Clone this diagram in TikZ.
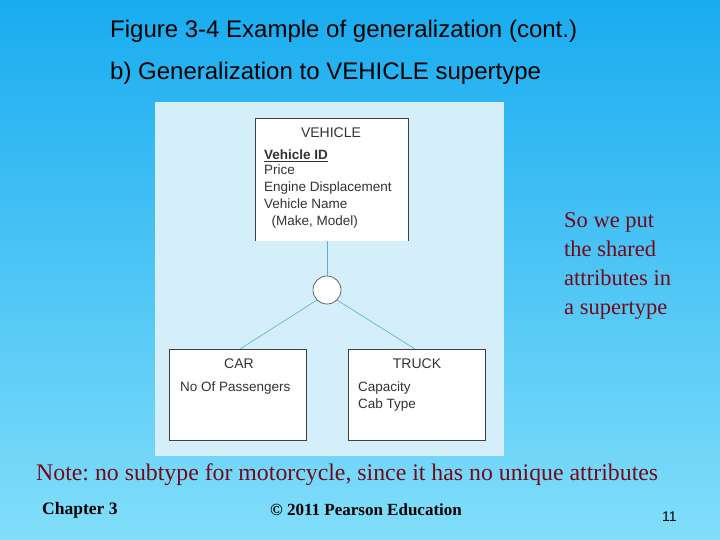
\documentclass[tikz,border=0pt]{standalone}
\usepackage{fontspec}
\setmainfont{Liberation Serif}
\newfontfamily\arial{Liberation Sans}
\definecolor{bgtop}{RGB}{25,172,240}
\definecolor{bgbot}{RGB}{130,222,250}
\definecolor{panel}{RGB}{212,238,250}
\definecolor{conn}{RGB}{90,175,205}
\definecolor{darkred}{RGB}{115,10,25}
\frenchspacing
\begin{document}
\begin{tikzpicture}[x=1pt,y=-1pt,
  ent/.style={draw=black!75,fill=white,line width=0.6pt},
  dtext/.style={font=\arial\fontsize{13.5}{17}\selectfont,text=black!80,anchor=north west,inner sep=0pt,align=left},
  dtitle/.style={font=\arial\fontsize{14}{16}\selectfont,text=black!80,inner sep=0pt},
  link/.style={draw=conn,line width=0.6pt}]
\shade[top color=bgtop,bottom color=bgbot] (0,0) rectangle (720,540);
\useasboundingbox (0,0) rectangle (720,540);
\fill[panel] (155,102) rectangle (504,456);
% entities
\fill[white] (255,118) rectangle (408,241);
\draw[ent,fill=none] (255,241) -- (255,118) -- (408,118) -- (408,241);
\coordinate (vb) at (327,241);
\node[dtitle] (vt) at (331,133) {VEHICLE};
\node[dtext] (va) at (264,150) {\underline{\textbf{Vehicle ID}}\\[-2pt]Price\\Engine Displacement\\Vehicle Name\\\ \ (Make, Model)};
\node[draw=black!75,fill=white,circle,minimum size=28pt,inner sep=0pt,line width=0.6pt] (c) at (327,290) {};
\node[ent,minimum width=137pt,minimum height=91pt,anchor=north west] (car) at (169,349) {};
\node[ent,minimum width=137pt,minimum height=91pt,anchor=north west] (truck) at (348,349) {};
\node[dtitle] (ct) at (239,364) {CAR};
\node[dtext] (ca) at (180,382) {No Of Passengers};
\node[dtitle] (tt) at (417,364) {TRUCK};
\node[dtext] (ta) at (358,382) {Capacity\\Cab Type};
\draw[link] (vb) -- (c.north);
\draw[link] (c.south west) -- (car.north -| 240,0);
\draw[link] (c.south east) -- (truck.north -| 415,0);
% texts
\node[font=\arial\fontsize{24}{28}\selectfont,anchor=west,inner sep=0pt] (t1) at (110,31) {Figure 3-4 Example of generalization (cont.)};
\node[font=\arial\fontsize{24}{28}\selectfont,anchor=west,inner sep=0pt] (t2) at (110,73) {b) Generalization to VEHICLE supertype};
\node[font=\fontsize{22.5}{29}\selectfont,text=darkred,anchor=base west,align=left,inner sep=0pt] (side) at (564,314) {So we put\\the shared\\attributes in\\a supertype};
\node[font=\fontsize{23.8}{28}\selectfont,text=darkred,anchor=west,inner sep=0pt] (note) at (36,475) {Note: no subtype for motorcycle, since it has no unique attributes};
\node[font=\bfseries\fontsize{17.5}{22}\selectfont,anchor=west,inner sep=0pt] (ch) at (42,510) {Chapter 3};
\node[font=\bfseries\fontsize{17}{20}\selectfont,anchor=west,inner sep=0pt] (cp) at (270,510) {\textcopyright{} 2011 Pearson Education};
\node[font=\arial\fontsize{14}{16}\selectfont,anchor=west,inner sep=0pt] (pg) at (662,517) {11};
\end{tikzpicture}
\end{document}
